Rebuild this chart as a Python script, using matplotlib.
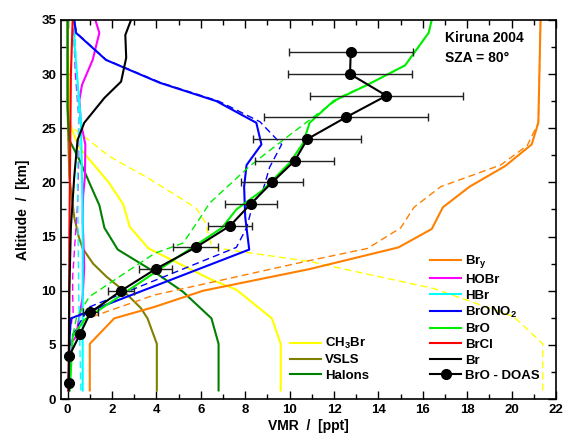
import matplotlib
matplotlib.use('Agg')
import matplotlib.pyplot as plt
from matplotlib.ticker import MultipleLocator

plt.rcParams['font.family'] = ['Liberation Sans', 'DejaVu Sans']
plt.rcParams['font.weight'] = 'bold'
plt.rcParams['mathtext.fontset'] = 'custom'
plt.rcParams['mathtext.rm'] = 'Liberation Sans:bold'
plt.rcParams['mathtext.bf'] = 'Liberation Sans:bold'
plt.rcParams['mathtext.default'] = 'bf'

# model profiles, altitude in km, VMR in ppt
bry_alt = [0.8, 5.1, 7.45, 8.5, 10.0, 12.0, 14.0, 15.7, 17.7, 19.6, 21.5, 23.5, 25.5, 35]
bry_vmr = [1.0, 1.0, 2.1, 3.9, 6.1, 10.9, 14.9, 16.4, 16.9, 18.1, 19.7, 20.9, 21.2, 21.3]
bry2_alt = [7.6, 9.6, 12.7, 13.9, 15.8, 17.7, 19.6, 21.6, 23.4, 25.5, 35]
bry2_vmr = [1.1, 3.9, 10.7, 13.5, 15.0, 15.6, 16.8, 19.5, 20.7, 21.2, 21.3]

hobr_alt = [0.8, 5.0, 5.75, 7.6, 9.45, 12.2, 16.5, 18.8, 20.5, 23.5, 25.5, 27.6, 29.0, 31.3, 33.8, 35]
hobr_vmr = [0.05, 0.08, 0.38, 0.53, 0.68, 0.75, 0.68, 0.7, 0.78, 0.8, 0.6, 0.53, 0.65, 1.13, 1.43, 1.25]
hobr2_alt = [0.8, 6.0, 8.0, 9.5, 11.3, 15.0, 18.0, 22.0, 26.0, 30.0, 35]
hobr2_vmr = [0.05, 0.1, 0.25, 0.23, 0.23, 0.35, 0.45, 0.5, 0.5, 0.35, 0.25]

hbr_alt = [0.8, 17.0, 25.6, 29.3, 33.0, 35]
hbr_vmr = [0.68, 0.68, 0.6, 0.45, 0.3, 0.33]
hbr2_alt = [0.8, 10.0, 20.0, 26.0, 35]
hbr2_vmr = [0.6, 0.5, 0.45, 0.5, 0.3]

brono2_alt = [0.8, 5.4, 7.45, 13.8, 16.8, 19.6, 21.6, 23.5, 25.5, 27.5, 29.2, 31.3, 33.8, 35]
brono2_vmr = [0.05, 0.08, 0.15, 8.18, 8.0, 7.95, 8.06, 8.73, 8.5, 6.7, 4.14, 1.73, 0.38, 0.3]
brono2d_alt = [0.8, 5.5, 8.5, 14.0, 15.8, 18.1, 19.3, 21.4, 23.5, 25.6, 27.5, 29.2, 31.3, 33.8, 35]
brono2d_vmr = [0.05, 0.1, 0.98, 7.6, 8.06, 8.36, 8.8, 9.1, 9.64, 8.66, 6.8, 4.2, 1.75, 0.4, 0.3]

bro_alt = [0.8, 5.75, 7.3, 12.8, 15.8, 17.5, 19.3, 21.8, 23.6, 25.5, 27.5, 29.0, 30.8, 33.8, 35]
bro_vmr = [0.1, 0.23, 0.75, 4.74, 6.95, 7.6, 8.8, 10.0, 10.6, 10.9, 11.97, 13.5, 15.2, 16.26, 16.4]
bro2_alt = [0.8, 5.5, 7.5, 9.45, 13.45, 14.4, 16.5, 18.1, 21.5, 23.9, 26.7, 28.0, 29.0, 30.8, 33.8, 35]
bro2_vmr = [0.1, 0.2, 0.4, 0.98, 3.92, 5.2, 5.9, 6.4, 8.2, 9.7, 11.5, 12.4, 13.5, 15.2, 16.26, 16.4]

brcl_alt = [0.8, 15.0, 30.0, 35]
brcl_vmr = [0.05, 0.08, 0.15, 0.23]

br_alt = [0.8, 10.0, 15.9, 20.5, 23.9, 25.5, 27.8, 29.3, 31.5, 33.6, 35]
br_vmr = [0.05, 0.08, 0.15, 0.3, 0.45, 0.75, 1.66, 2.41, 2.64, 2.6, 2.86]

ch3br_alt = [0.8, 5.1, 7.45, 10.1, 11.0, 13.9, 15.9, 18.0, 20.0, 23.3, 25.5, 35]
ch3br_vmr = [9.6, 9.6, 9.2, 7.6, 6.5, 3.65, 2.8, 2.5, 1.85, 0.5, 0.08, 0.0]
ch3br2_alt = [0.8, 5.1, 7.6, 10.2, 12.2, 12.7, 14.0, 16.3, 17.6, 18.4, 20.5, 22.4, 25.3, 35]
ch3br2_vmr = [21.4, 21.4, 20.1, 16.5, 12.0, 10.9, 6.5, 6.2, 5.8, 5.2, 3.54, 1.88, 0.08, 0.0]

vsls_alt = [0.8, 5.1, 7.45, 8.4, 10.2, 11.3, 12.5, 13.9, 15.0, 16.8, 20.5, 26.7, 35]
vsls_vmr = [4.02, 4.02, 3.6, 3.3, 2.41, 1.75, 1.15, 0.68, 0.5, 0.3, 0.08, 0.0, 0.0]

halons_alt = [0.8, 5.1, 7.45, 9.9, 11.75, 13.8, 15.8, 17.9, 19.6, 22.1, 23.9, 27.0, 35]
halons_vmr = [6.8, 6.8, 6.48, 5.2, 3.9, 2.26, 1.66, 1.43, 1.06, 0.53, 0.08, 0.0, 0.0]

# BrO DOAS retrieval
doas_alt = [1.5, 4, 6, 8, 10, 12, 14, 16, 18, 20, 22, 24, 26, 28, 30, 32]
doas_vmr = [0.05, 0.08, 0.56, 1.03, 2.41, 3.96, 5.77, 7.32, 8.24, 9.21, 10.23, 10.8, 12.53, 14.36, 12.72, 12.75]
doas_err = [0.0, 0.0, 0.1, 0.33, 0.58, 0.76, 1.0, 1.0, 1.17, 1.4, 1.77, 2.43, 3.7, 3.44, 2.8, 2.8]

fig = plt.figure(figsize=(5.64, 4.41), dpi=100)
ax = fig.add_axes([0.108, 0.095, 0.878, 0.86])

lw = 1.5
dlw = 1.0
c_bry, c_hobr, c_hbr = '#FF8000', '#FF00FF', '#00FFFF'
c_brono2, c_bro, c_brcl = '#0000FF', '#00EE00', '#FF0000'
c_ch3br, c_vsls, c_hal = '#FFFF00', '#808000', '#008000'

# source gases
h_ch3br, = ax.plot(ch3br_vmr, ch3br_alt, c=c_ch3br, lw=lw)
ax.plot(ch3br2_vmr, ch3br2_alt, c=c_ch3br, lw=dlw, ls='--', dashes=(5, 3))
h_vsls, = ax.plot(vsls_vmr, vsls_alt, c=c_vsls, lw=lw)
h_hal, = ax.plot(halons_vmr, halons_alt, c=c_hal, lw=lw)

# inorganic bromine
h_bry, = ax.plot(bry_vmr, bry_alt, c=c_bry, lw=lw)
ax.plot(bry2_vmr, bry2_alt, c=c_bry, lw=dlw, ls='--', dashes=(5, 3))
h_hobr, = ax.plot(hobr_vmr, hobr_alt, c=c_hobr, lw=lw)
ax.plot(hobr2_vmr, hobr2_alt, c=c_hobr, lw=dlw, ls='--', dashes=(5, 3))
h_hbr, = ax.plot(hbr_vmr, hbr_alt, c=c_hbr, lw=lw)
ax.plot(hbr2_vmr, hbr2_alt, c=c_hbr, lw=dlw, ls='--', dashes=(5, 3))
h_brono2, = ax.plot(brono2_vmr, brono2_alt, c=c_brono2, lw=lw)
ax.plot(brono2d_vmr, brono2d_alt, c=c_brono2, lw=dlw, ls='--', dashes=(5, 3))
h_bro, = ax.plot(bro_vmr, bro_alt, c=c_bro, lw=lw)
ax.plot(bro2_vmr, bro2_alt, c=c_bro, lw=dlw, ls='--', dashes=(5, 3))
h_brcl, = ax.plot(brcl_vmr, brcl_alt, c=c_brcl, lw=lw)
h_br, = ax.plot(br_vmr, br_alt, c='black', lw=lw)

# DOAS profile with error bars
ax.errorbar(doas_vmr, doas_alt, xerr=doas_err, fmt='none', ecolor='#222222',
            elinewidth=1, capsize=3, capthick=1, zorder=5)
h_doas, = ax.plot(doas_vmr, doas_alt, c='black', lw=lw, marker='o', ms=7, zorder=6)

ax.set_xlim(-0.3, 22)
ax.set_ylim(0, 35)
ax.xaxis.set_major_locator(MultipleLocator(2))
ax.xaxis.set_minor_locator(MultipleLocator(1))
ax.yaxis.set_major_locator(MultipleLocator(5))
ax.yaxis.set_minor_locator(MultipleLocator(2.5))
ax.tick_params(which='both', direction='in', top=True, right=True, labelsize=9.5)
ax.tick_params(which='major', length=6, width=1)
ax.tick_params(which='minor', length=3.5, width=1)
for s in ax.spines.values():
    s.set_linewidth(1.2)

ax.set_xlabel('VMR  /  [ppt]', fontsize=10, fontweight='bold', labelpad=2)
ax.set_ylabel('Altitude  /  [km]', fontsize=10, fontweight='bold', labelpad=8)

ax.text(0.776, 0.97, 'Kiruna 2004\nSZA = 80°', transform=ax.transAxes,
        fontsize=10, fontweight='bold', va='top', ha='left', linespacing=1.55)

leg1 = ax.legend([h_bry, h_hobr, h_hbr, h_brono2, h_bro, h_brcl, h_br, h_doas],
                 ['Br$_y$', 'HOBr', 'HBr', 'BrONO$_2$', 'BrO', 'BrCl', 'Br', 'BrO - DOAS'],
                 loc='upper left', bbox_to_anchor=(0.745, 0.384), frameon=False,
                 fontsize=9.5, handlelength=2.4, handletextpad=0.3, labelspacing=0.25,
                 borderpad=0, borderaxespad=0)
ax.add_artist(leg1)
ax.legend([h_ch3br, h_vsls, h_hal], ['CH$_3$Br', 'VSLS', 'Halons'],
          loc='upper left', bbox_to_anchor=(0.462, 0.166), frameon=False,
          fontsize=9.5, handlelength=2.4, handletextpad=0.3, labelspacing=0.22,
          borderpad=0, borderaxespad=0)

fig.savefig('out.png', dpi=100)
